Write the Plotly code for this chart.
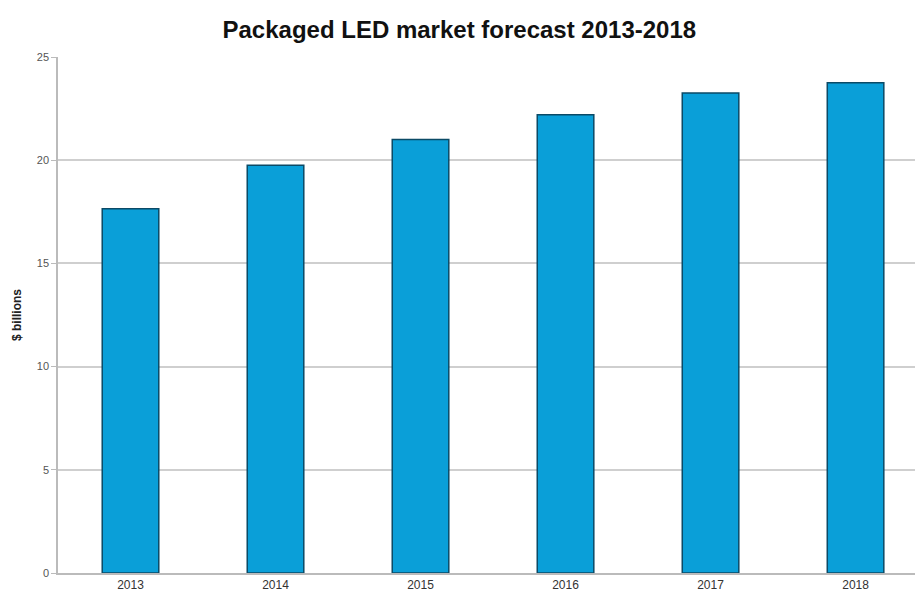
import plotly.graph_objects as go

years = ["2013", "2014", "2015", "2016", "2017", "2018"]
values = [17.65, 19.75, 21.0, 22.2, 23.25, 23.75]
y_ticks = [0, 5, 10, 15, 20, 25]

fig = go.Figure()
fig.add_trace(go.Bar(
    x=years, y=values,
    marker=dict(color="#0a9fd8", line=dict(color="#0b4a66", width=1.5)),
    width=0.39,
))

fig.update_layout(
    width=915, height=595,
    margin=dict(l=58, r=0, t=57, b=22, autoexpand=False),
    paper_bgcolor="white", plot_bgcolor="white",
    showlegend=False,
    title=dict(text="<b>Packaged LED market forecast 2013-2018</b>",
               x=0.502, xanchor="center", y=0.95, yanchor="middle",
               font=dict(family="Liberation Sans, Arial", size=24, color="#111")),
    font=dict(family="Liberation Sans, Arial", size=11, color="#444"),
)
fig.update_xaxes(
    type="category", range=[-0.5, 5.41], automargin=False,
    showline=True, linecolor="#bbbbbb", linewidth=1.5,
    ticks="", tickfont=dict(size=12, color="#333"),
    showgrid=False,
)
fig.update_yaxes(
    range=[0, 25], tickvals=y_ticks, ticktext=[str(v) for v in y_ticks],
    automargin=False,
    showline=True, linecolor="#bbbbbb", linewidth=1.5,
    showgrid=True, gridcolor="#cfcfcf", gridwidth=2,
    ticks="outside", ticklen=5, tickcolor="#bbbbbb",
    tickfont=dict(size=11, color="#555"),
    title=dict(text="<b>$ billions</b>", font=dict(size=12, color="#222"), standoff=13),
    zeroline=False,
)
fig.write_html("out.html", config={"displayModeBar": False},
               post_script="document.body.style.margin='0';")
